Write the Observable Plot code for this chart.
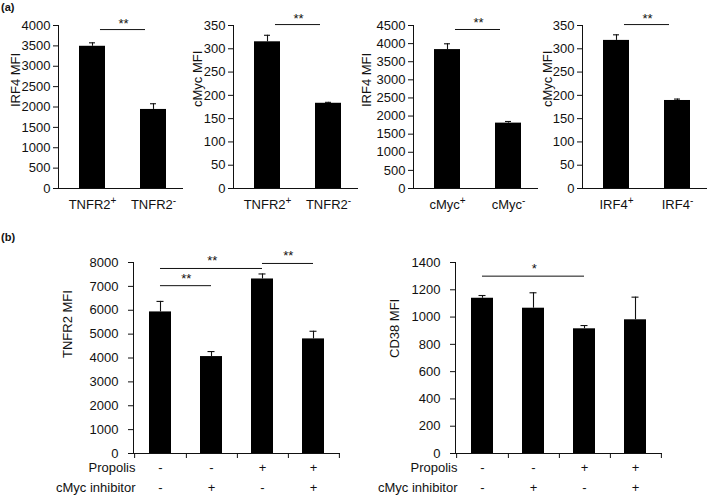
<!DOCTYPE html>
<html>
<head>
<meta charset="utf-8">
<script src="https://cdn.jsdelivr.net/npm/d3@7"></script>
<script src="https://cdn.jsdelivr.net/npm/@observablehq/plot@0.6"></script>
<style>
  html, body { margin: 0; padding: 0; background: #fff; }
  #chart { position: relative; width: 709px; height: 498px; overflow: hidden;
           font-family: "Liberation Sans", Arial, Helvetica, sans-serif; color: #111; }
  .tag { position: absolute; font-weight: bold; font-size: 11px; line-height: 1; }
</style>
</head>
<body>
<div id="chart">
  <div class="tag" style="left:1px;top:2px;">(a)</div>
  <div class="tag" style="left:1px;top:232px;">(b)</div>
</div>
<script>
// ---------- (a) data ----------
const irf4ByTnfr2Cats = ["TNFR2\u207A", "TNFR2\u207B"];
const irf4ByTnfr2Mean = [3490, 1940];
const irf4ByTnfr2Err  = [85, 140];

const cmycByTnfr2Cats = ["TNFR2\u207A", "TNFR2\u207B"];
const cmycByTnfr2Mean = [315, 183];
const cmycByTnfr2Err  = [14, 2];

const irf4ByCmycCats = ["cMyc\u207A", "cMyc\u207B"];
const irf4ByCmycMean = [3835, 1805];
const irf4ByCmycErr  = [160, 45];

const cmycByIrf4Cats = ["IRF4\u207A", "IRF4\u207B"];
const cmycByIrf4Mean = [318, 189];
const cmycByIrf4Err  = [12, 3];

// ---------- (b) data ----------
const conditions   = ["control", "inhibitor", "propolis", "propolis+inhibitor"];
const propolisRow  = ["-", "-", "+", "+"];
const inhibitorRow = ["-", "+", "-", "+"];
const tnfr2Mean = [5930, 4060, 7310, 4800];
const tnfr2Err  = [440, 210, 210, 320];
const cd38Mean  = [1138, 1065, 914, 980];
const cd38Err   = [20, 113, 24, 166];

// ---------- tick values ----------
const ticks4000 = [0, 500, 1000, 1500, 2000, 2500, 3000, 3500, 4000];
const ticks350  = [0, 50, 100, 150, 200, 250, 300, 350];
const ticks4500 = [0, 500, 1000, 1500, 2000, 2500, 3000, 3500, 4000, 4500];
const ticks8000 = [0, 1000, 2000, 3000, 4000, 5000, 6000, 7000, 8000];
const ticks1400 = [0, 200, 400, 600, 800, 1000, 1200, 1400];

// ---------- significance bars ----------
const sigA1 = [{from: "TNFR2\u207A", to: "TNFR2\u207B", y: 3900, label: "**"}];
const sigA2 = [{from: "TNFR2\u207A", to: "TNFR2\u207B", y: 352, label: "**"}];
const sigA3 = [{from: "cMyc\u207A", to: "cMyc\u207B", y: 4390, label: "**"}];
const sigA4 = [{from: "IRF4\u207A", to: "IRF4\u207B", y: 352, label: "**"}];
const sigB1 = [
  {from: "control",  to: "inhibitor",          y: 7030, label: "**"},
  {from: "control",  to: "propolis",           y: 7750, label: "**"},
  {from: "propolis", to: "propolis+inhibitor", y: 7960, label: "**"}
];
const sigB2 = [{from: "control", to: "propolis", y: 1300, label: "*"}];

const FONT = '"Liberation Sans", Arial, Helvetica, sans-serif';
const INK = "#111";
const chart = document.getElementById("chart");
const SUP = {"\u207A": "+", "\u207B": "-"};

function panel(p) {
  const frameW = p.width - p.ml - p.mr;
  const band = d3.scaleBand().domain(p.cats).range([0, frameW])
    .paddingInner(p.pi).paddingOuter(p.po).align(p.align);
  const bw = band.bandwidth(), step = band.step();
  const rows = p.cats.map((c, i) => ({c, i, v: p.mean[i], top: p.mean[i] + p.err[i]}));
  const capInset = (bw - p.cap) / 2;

  const marks = [
    Plot.barY(rows, {x: "c", y: "v", fill: "#000"}),
    Plot.ruleX(rows, {x: "c", y1: "v", y2: "top", stroke: INK, strokeWidth: 1.1}),
    Plot.tickY(rows, {x: "c", y: "top", stroke: INK, strokeWidth: 1.1, insetLeft: capInset, insetRight: capInset}),
    Plot.ruleY([0], {stroke: INK}),
    Plot.frame({anchor: "left", stroke: INK}),
    Plot.axisY({ticks: p.ticks, tickFormat: d => String(d), tickSize: 5, tickPadding: p.tickPad,
      fontSize: 13, label: null}),
    Plot.ruleY(p.sig, {x1: "from", x2: "to", y: "y", stroke: INK,
      insetLeft: bw / 2 + p.sigInset, insetRight: bw / 2 + p.sigInset}),
    ...p.sig.map(s => Plot.text([s], {x: "from", y: "y", text: "label", fontSize: 13,
      lineAnchor: "bottom", dy: p.starDy,
      dx: (p.cats.indexOf(s.to) - p.cats.indexOf(s.from)) * step / 2})),
    Plot.text([p.yLabel], {text: d => d, frameAnchor: "left", rotate: -90, dx: p.labelDx, fontSize: p.labelSize})
  ];

  if (p.table) {
    marks.push(Plot.ruleX(rows, {x: "c", y1: 0, y2: 0, insetBottom: -5, dx: step / 2, stroke: INK}));
    marks.push(Plot.ruleX(rows.slice(0, 1), {x: "c", y1: 0, y2: 0, insetBottom: -5, dx: -step / 2, stroke: INK}));
    p.table.forEach((row, k) => {
      const dy = 18 + 20 * k;
      marks.push(Plot.text(rows, {x: "c", text: d => row.values[d.i], frameAnchor: "bottom", dy, fontSize: 13}));
      marks.push(Plot.text([row.name], {text: d => d, frameAnchor: "bottom-left", dx: 2, dy,
        textAnchor: "end", fontSize: 13}));
    });
  } else {
    marks.push(Plot.axisX({tickSize: 0, tickPadding: 11, fontSize: 13, label: null}));
  }

  const xOpts = {type: "band", domain: p.cats, paddingInner: p.pi, paddingOuter: p.po, align: p.align};
  if (p.table) xOpts.axis = null;

  const svg = Plot.plot({
    width: p.width, height: p.height,
    marginLeft: p.ml, marginRight: p.mr, marginTop: p.mt, marginBottom: p.mb,
    style: {fontFamily: FONT, fontSize: "13px", color: INK, background: "none", overflow: "visible"},
    x: xOpts,
    y: {domain: [0, p.yMax], label: null},
    marks
  });

  // render the trailing +/- of category labels as a true superscript
  d3.select(svg).selectAll("text").each(function () {
    const t = this.textContent;
    const last = t.slice(-1);
    if (t.length > 1 && SUP[last] && this.childElementCount === 0) {
      const sel = d3.select(this);
      sel.text(t.slice(0, -1));
      sel.append("tspan").attr("font-size", 10).attr("dy", "-0.45em").text(SUP[last]);
    }
  });

  svg.style.position = "absolute";
  svg.style.left = p.left + "px";
  svg.style.top = p.top + "px";
  svg.style.maxWidth = "none";
  chart.appendChild(svg);
}

const aCommon = {top: 0, height: 215, mt: 25, mb: 27, mr: 2, pi: 0.58, po: 0.3, align: 0.55,
  cap: 6, tickPad: 3, sigInset: 8, starDy: -2, labelSize: 13};

panel({...aCommon, left: 0, width: 185, ml: 58, cats: irf4ByTnfr2Cats, mean: irf4ByTnfr2Mean,
  err: irf4ByTnfr2Err, yMax: 4000, ticks: ticks4000, yLabel: "IRF4 MFI", labelDx: -43, sig: sigA1});
panel({...aCommon, left: 177, width: 183, ml: 56, cats: cmycByTnfr2Cats, mean: cmycByTnfr2Mean,
  err: cmycByTnfr2Err, yMax: 350, ticks: ticks350, yLabel: "cMyc MFI", labelDx: -36, sig: sigA2});
panel({...aCommon, left: 352, width: 188, ml: 61, cats: irf4ByCmycCats, mean: irf4ByCmycMean,
  err: irf4ByCmycErr, yMax: 4500, ticks: ticks4500, yLabel: "IRF4 MFI", labelDx: -47, sig: sigA3});
panel({...aCommon, left: 527, width: 182, ml: 55, cats: cmycByIrf4Cats, mean: cmycByIrf4Mean,
  err: cmycByIrf4Err, yMax: 350, ticks: ticks350, yLabel: "cMyc MFI", labelDx: -35, sig: sigA4});

const table = [{name: "Propolis", values: propolisRow}, {name: "cMyc inhibitor", values: inhibitorRow}];
const bCommon = {top: 240, height: 258, mt: 22, mb: 45, pi: 0.575, po: 0.2875, align: 0.5,
  cap: 7, tickPad: 10, sigInset: 0, starDy: -3, table, cats: conditions, labelSize: 13};

panel({...bCommon, left: 0, width: 355, ml: 133, mr: 15, mean: tnfr2Mean, err: tnfr2Err,
  yMax: 8000, ticks: ticks8000, yLabel: "TNFR2 MFI", labelDx: -66, sig: sigB1});
panel({...bCommon, left: 355, width: 354, ml: 100, mr: 47, mean: cd38Mean, err: cd38Err,
  yMax: 1400, ticks: ticks1400, yLabel: "CD38 MFI", labelDx: -61, sig: sigB2});
</script>
</body>
</html>
